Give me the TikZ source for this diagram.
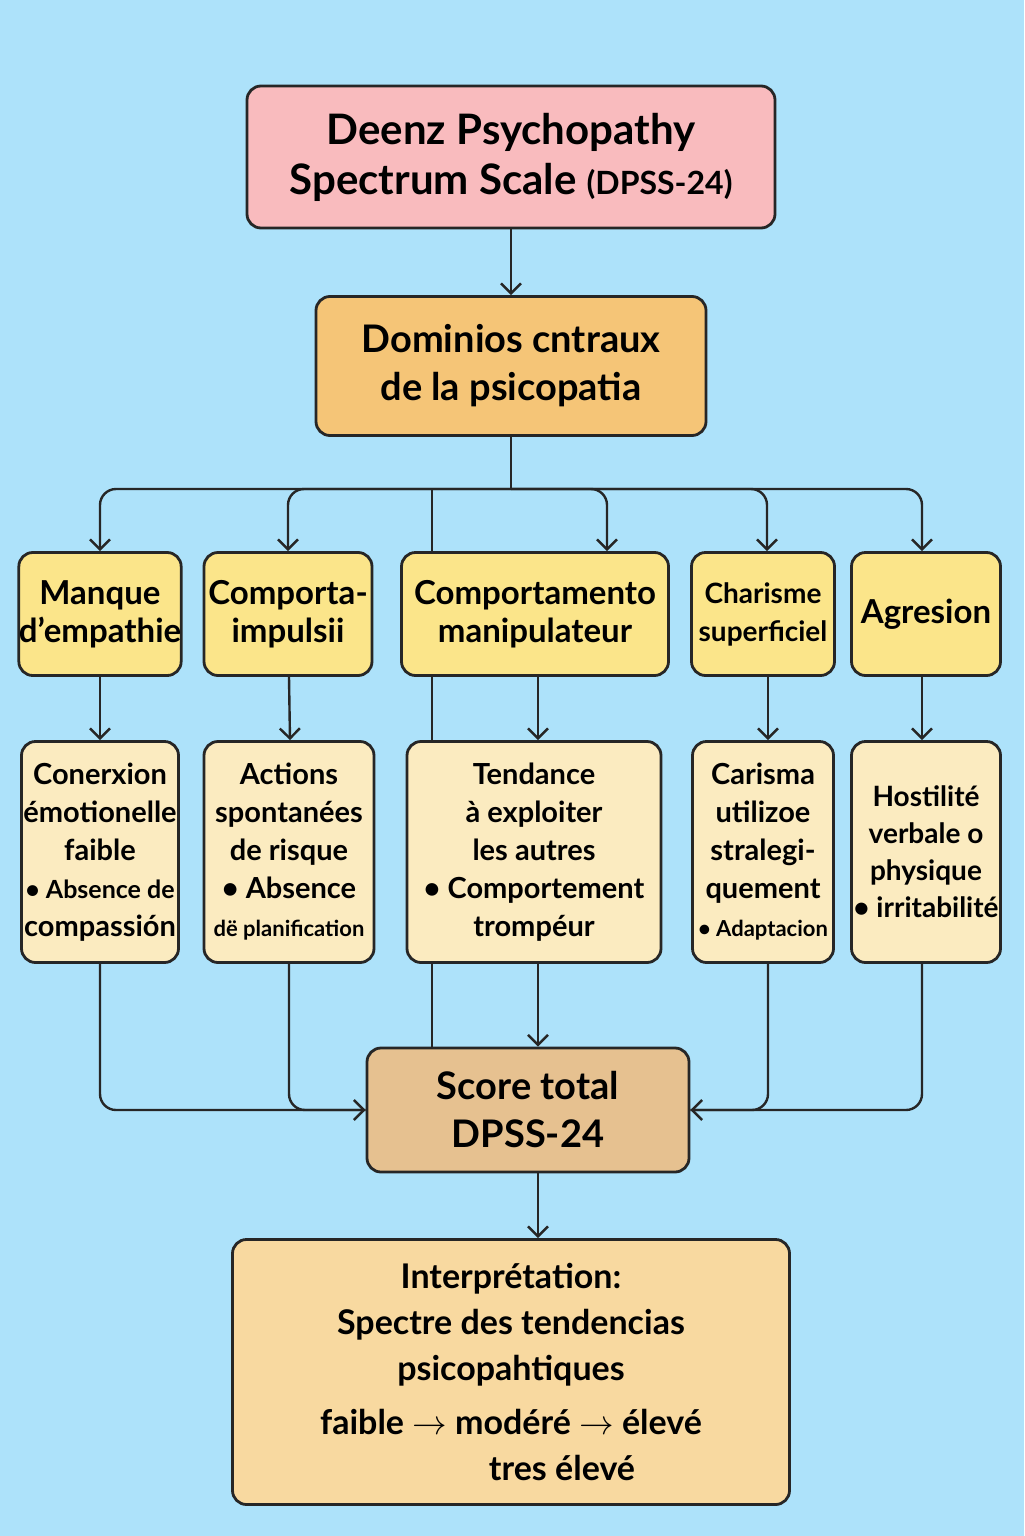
\documentclass[tikz,border=0pt]{standalone}
\usepackage{fontspec}
\setmainfont{Lato}
\usetikzlibrary{arrows.meta}
\definecolor{bgblue}{HTML}{ADE2FA}
\definecolor{titlepink}{HTML}{F9BBBE}
\definecolor{domorange}{HTML}{F5C577}
\definecolor{rowyellow}{HTML}{FBE58A}
\definecolor{rowcream}{HTML}{FBEBC0}
\definecolor{scoretan}{HTML}{E6C190}
\definecolor{interpbeige}{HTML}{F8D9A0}
\tikzset{
  box/.style={draw=black!85, line width=1.4pt, rounded corners=7pt, align=center, inner sep=0pt},
  trait/.style={box, fill=rowyellow, minimum height=61.5pt, font=\fontsize{16.5}{19}\selectfont\bfseries},
  detail/.style={box, fill=rowcream, minimum height=110.5pt, font=\fontsize{14.5}{19}\selectfont\bfseries},
  link/.style={line width=1.2pt, draw=black!85, rounded corners=8pt},
  arr/.style={link, -{Straight Barb[length=5pt,width=10pt]}}
}
\begin{document}
\begin{tikzpicture}[x=0.5pt, y=-0.5pt]
  \fill[bgblue] (0,0) rectangle (1024,1536);
  \useasboundingbox (0,0) rectangle (1024,1536);
		% top of the tree
		\node[box, fill=titlepink, minimum width=264pt, minimum height=71pt, font=\fontsize{21}{25}\selectfont\bfseries] (Title) at (511,157) {Deenz Psychopathy\\Spectrum Scale {\fontsize{16}{20}\selectfont(DPSS-24)}};
		\node[box, fill=domorange, minimum width=195pt, minimum height=69.5pt, font=\fontsize{19}{24}\selectfont\bfseries] (Domains) at (511,366) {Dominios cntraux\\de la psicopatia};
		\coordinate (Fork) at (511,489);
		% first row
		\node[trait, minimum width=78.5pt] (Empathy) at (100,614) {Manque\\d’empathie};
		\node[trait, minimum width=84pt] (Impulse) at (288,614) {Comporta-\\impulsii};
		\node[trait, minimum width=133.5pt] (Manip) at (535,614) {Comportamento\\manipulateur};
		\node[trait, minimum width=71.5pt, font=\fontsize{14}{19}\selectfont\bfseries] (Charm) at (763,614) {Charisme\\superficiel};
		\node[trait, minimum width=74.5pt] (Aggr) at (926,614) {Agresion};
		% second row
		\node[detail, minimum width=78.5pt] (Cold) at (100,852) {Conerxion\\émotionelle\\faible\\{\fontsize{12.5}{19}\selectfont • Absence de}\\compassión};
		\node[detail, minimum width=85pt] (Risk) at (289,852) {Actions\\spontanées\\de risque\\• Absence\\{\fontsize{11}{19}\selectfont dë planification}};
		\node[detail, minimum width=127pt] (Exploit) at (534,852) {Tendance\\à exploiter\\les autres\\• Comportement\\trompéur};
		\node[detail, minimum width=70.5pt] (Strat) at (763,852) {Carisma\\utilizoe\\stralegi-\\quement\\{\fontsize{11}{19}\selectfont • Adaptacion}};
		\node[detail, minimum width=74.5pt, font=\fontsize{14}{18.5}\selectfont\bfseries] (Hostile) at (926,852) {Hostilité\\verbale o\\physique\\• irritabilité};
		% bottom
		\node[box, fill=scoretan, minimum width=161pt, minimum height=62pt, font=\fontsize{19}{24}\selectfont\bfseries] (Score) at (528,1110) {Score total\\DPSS-24};
		\node[box, fill=interpbeige, minimum width=278.5pt, minimum height=132.5pt, font=\fontsize{17}{23}\selectfont\bfseries] (Interp) at (511,1372) {Interprétation:\\Spectre des tendencias\\psicopahtiques\\[4pt] faible $\to$ modéré $\to$ élevé\\\hspace{3em}tres élevé};
		% connectors
		\draw[arr] (Title) -- (Domains);
		\draw[link] (Domains) -- (Fork);
		\draw[arr] (Fork) -| (Empathy.north);
		\draw[arr] (Fork) -| (Impulse.north);
		\draw[arr] (Fork) -| ([xshift=36]Manip.north);
		\draw[arr] (Fork) -| ([xshift=2]Charm.north);
		\draw[arr] (Fork) -| ([xshift=-2]Aggr.north);
		\draw[link] (432,489) -- (432,553);
		\draw[link] (432,676) -- (432,742);
		\draw[link] (432,963) -- (432,1048);
		\draw[arr] (Empathy) -- (Cold);
		\draw[arr] (Impulse) -- ([xshift=1]Impulse.south |- Risk.north);
		\draw[arr] ([xshift=1.5]Manip.south) -- ([xshift=1.5]Manip.south |- Exploit.north);
		\draw[arr] ([xshift=2.5]Charm.south) -- ([xshift=2.5]Charm.south |- Strat.north);
		\draw[arr] ([xshift=-2]Aggr.south) -- ([xshift=-2]Aggr.south |- Hostile.north);
		\draw[arr] (Cold.south) |- (Score.west);
		\draw[link] (Risk.south) |- (Score.west);
		\draw[arr] ([xshift=2]Exploit.south) -- ([xshift=2]Exploit.south |- Score.north);
		\draw[arr] ([xshift=2.5]Strat.south) |- (Score.east);
		\draw[link] ([xshift=-2]Hostile.south) |- (Score.east);
		\draw[arr] ([xshift=5]Score.south) -- ([xshift=5]Score.south |- Interp.north);
	\end{tikzpicture}
\end{document}
